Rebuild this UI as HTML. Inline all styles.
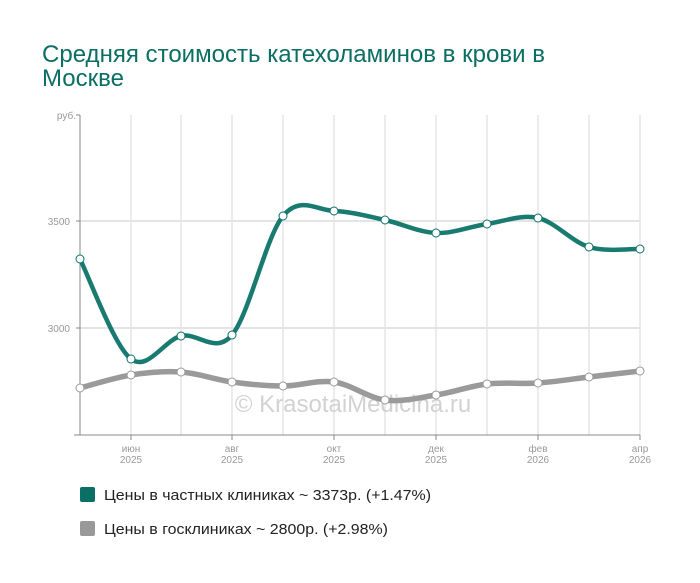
<!DOCTYPE html>
<html><head><meta charset="utf-8"><style>
body{margin:0;background:#fff;width:700px;height:578px;overflow:hidden;font-family:"Liberation Sans",sans-serif}
</style></head><body>
<svg width="700" height="578" xmlns="http://www.w3.org/2000/svg" font-family="Liberation Sans, sans-serif">
<text x="42" y="62" font-size="24" fill="#0b6e63" textLength="503" lengthAdjust="spacingAndGlyphs">Средняя стоимость катехоламинов в крови в</text>
<text x="42" y="86" font-size="24" fill="#0b6e63">Москве</text>
<g stroke="#d8d8d8" stroke-width="1">
<line x1="131" y1="115" x2="131" y2="435"/><line x1="181" y1="115" x2="181" y2="435"/><line x1="232" y1="115" x2="232" y2="435"/><line x1="283" y1="115" x2="283" y2="435"/><line x1="334" y1="115" x2="334" y2="435"/><line x1="385" y1="115" x2="385" y2="435"/><line x1="436" y1="115" x2="436" y2="435"/><line x1="487" y1="115" x2="487" y2="435"/><line x1="538" y1="115" x2="538" y2="435"/><line x1="589" y1="115" x2="589" y2="435"/><line x1="640" y1="115" x2="640" y2="435"/>
<line x1="80" y1="221" x2="640" y2="221" stroke="#e4e4e4" stroke-width="2"/><line x1="80" y1="328" x2="640" y2="328" stroke="#e4e4e4" stroke-width="2"/>
</g>
<g stroke="#888" stroke-width="1">
<line x1="80" y1="115" x2="80" y2="435"/><line x1="74" y1="435" x2="640" y2="435"/>
<line x1="76" y1="115" x2="80" y2="115"/><line x1="76" y1="221" x2="80" y2="221"/><line x1="76" y1="328" x2="80" y2="328"/>
<line x1="131" y1="435" x2="131" y2="440"/><line x1="232" y1="435" x2="232" y2="440"/><line x1="334" y1="435" x2="334" y2="440"/><line x1="436" y1="435" x2="436" y2="440"/><line x1="538" y1="435" x2="538" y2="440"/><line x1="640" y1="435" x2="640" y2="440"/>
</g>
<g font-size="10" fill="#999" text-anchor="end">
<text x="76" y="119">руб.</text><text x="70" y="225">3500</text><text x="70" y="332">3000</text>
</g>
<g font-size="10" fill="#999" text-anchor="middle">
<text x="131" y="452">июн</text><text x="131" y="463">2025</text>
<text x="232" y="452">авг</text><text x="232" y="463">2025</text>
<text x="334" y="452">окт</text><text x="334" y="463">2025</text>
<text x="436" y="452">дек</text><text x="436" y="463">2025</text>
<text x="538" y="452">фев</text><text x="538" y="463">2026</text>
<text x="640" y="452">апр</text><text x="640" y="463">2026</text>
</g>
<text x="353" y="412" font-size="24" fill="#d2d2d2" text-anchor="middle">© KrasotaiMedicina.ru</text>
<path id="g" fill="none" stroke="#9a9a9a" stroke-width="5.5" d=""/>
<path id="t" fill="none" stroke="#197a70" stroke-width="4.5" d=""/>
<g id="pts"></g>
<rect x="80" y="487" width="15" height="15" rx="2" fill="#0a7065"/>
<text x="104" y="500" font-size="15" fill="#222" textLength="327" lengthAdjust="spacingAndGlyphs">Цены в частных клиниках ~ 3373р. (+1.47%)</text>
<rect x="80" y="521" width="15" height="15" rx="2" fill="#999"/>
<text x="104" y="534" font-size="15" fill="#222" textLength="284" lengthAdjust="spacingAndGlyphs">Цены в госклиниках ~ 2800р. (+2.98%)</text>
</svg>
<script>
const X=[80,131,181,232,283,334,385,436,487,538,589,640];
const G=[388,375,372,382,386,382,400,395,384,383,377,371];
const T=[259,359,336,335,216,211,220,233,224,218,247,249];
function path(Y){let d=`M${X[0]},${Y[0]}`;for(let i=0;i<X.length-1;i++){const p0=[X[Math.max(i-1,0)],Y[Math.max(i-1,0)]],p1=[X[i],Y[i]],p2=[X[i+1],Y[i+1]],p3=[X[Math.min(i+2,X.length-1)],Y[Math.min(i+2,X.length-1)]];const k=6;d+=` C${p1[0]+(p2[0]-p0[0])/k},${p1[1]+(p2[1]-p0[1])/k} ${p2[0]-(p3[0]-p1[0])/k},${p2[1]-(p3[1]-p1[1])/k} ${p2[0]},${p2[1]}`;}return d;}
document.getElementById('g').setAttribute('d',path(G));
document.getElementById('t').setAttribute('d',path(T));
let s='';
X.forEach((x,i)=>{s+=`<circle cx="${x}" cy="${G[i]}" r="4" fill="#fff" stroke="#999" stroke-width="1"/>`;});
X.forEach((x,i)=>{s+=`<circle cx="${x}" cy="${T[i]}" r="4" fill="#fff" stroke="#0a7065" stroke-width="1"/>`;});
document.getElementById('pts').innerHTML=s;
</script>
</body></html>
